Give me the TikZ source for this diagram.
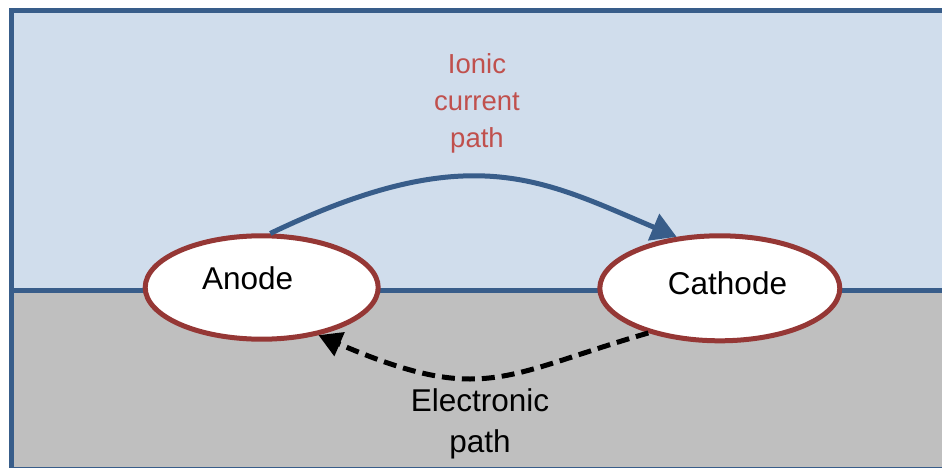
\documentclass[tikz,border=0pt]{standalone}
\usepackage{fontspec}
\setmainfont{Liberation Sans}
\usetikzlibrary{arrows.meta,shapes.geometric}

\definecolor{waterblue}{RGB}{208,221,236}
\definecolor{soilgray}{RGB}{191,191,191}
\definecolor{edgeblue}{RGB}{56,93,138}
\definecolor{electrodered}{RGB}{149,55,53}
\definecolor{labelred}{RGB}{192,80,77}

\begin{document}
\begin{tikzpicture}[x=1pt,y=-1pt,
  electrode/.style={ellipse, draw=electrodered, fill=white, line width=5pt, inner sep=0pt},
  bigtext/.style={font=\fontsize{31.5}{41}\selectfont},
  ionpath/.style={edgeblue, line width=5pt, -{Triangle[length=25pt,width=28pt]}},
  electronpath/.style={black, line width=5pt, dash pattern=on 13pt off 7pt,
    -{Triangle[length=23pt,width=25pt]}}
]
\useasboundingbox (0,0) rectangle (942,468);

% electrolyte above, metal below
\fill[waterblue] (11.5,10.8) rectangle (960,290.5);
\fill[soilgray] (11.5,290.5) rectangle (960,469.5);
\draw[edgeblue, line width=5pt] (11.5,10.8) rectangle (960,469.5);
\draw[edgeblue, line width=4.5pt] (11.5,290.5) -- (960,290.5);

% electrodes
\node[electrode, minimum width=233pt, minimum height=103.4pt,
  label={[bigtext, xshift=-14pt, yshift=9.5pt]center:Anode}] (anode) at (261.7,287.5) {};
\node[electrode, minimum width=240pt, minimum height=105pt,
  label={[bigtext, xshift=7.7pt, yshift=5pt]center:Cathode}] (cathode) at (719.8,288.3) {};

% labels
\node[font=\fontsize{27.5}{37}\selectfont, text=labelred, align=center, inner sep=0pt]
  (ionic) at (477,103) {Ionic\\current\\path};
\node[bigtext, align=center, inner sep=0pt] (electronic) at (480,423.5) {Electronic\\path};

% current paths
\draw[ionpath] (anode.81) .. controls +(200,-96) and +(-135,-57) .. (cathode.130);
\draw[electronpath] (cathode.212) .. controls +(-145,42) and +(165,71) .. (anode.320);
\end{tikzpicture}
\end{document}
